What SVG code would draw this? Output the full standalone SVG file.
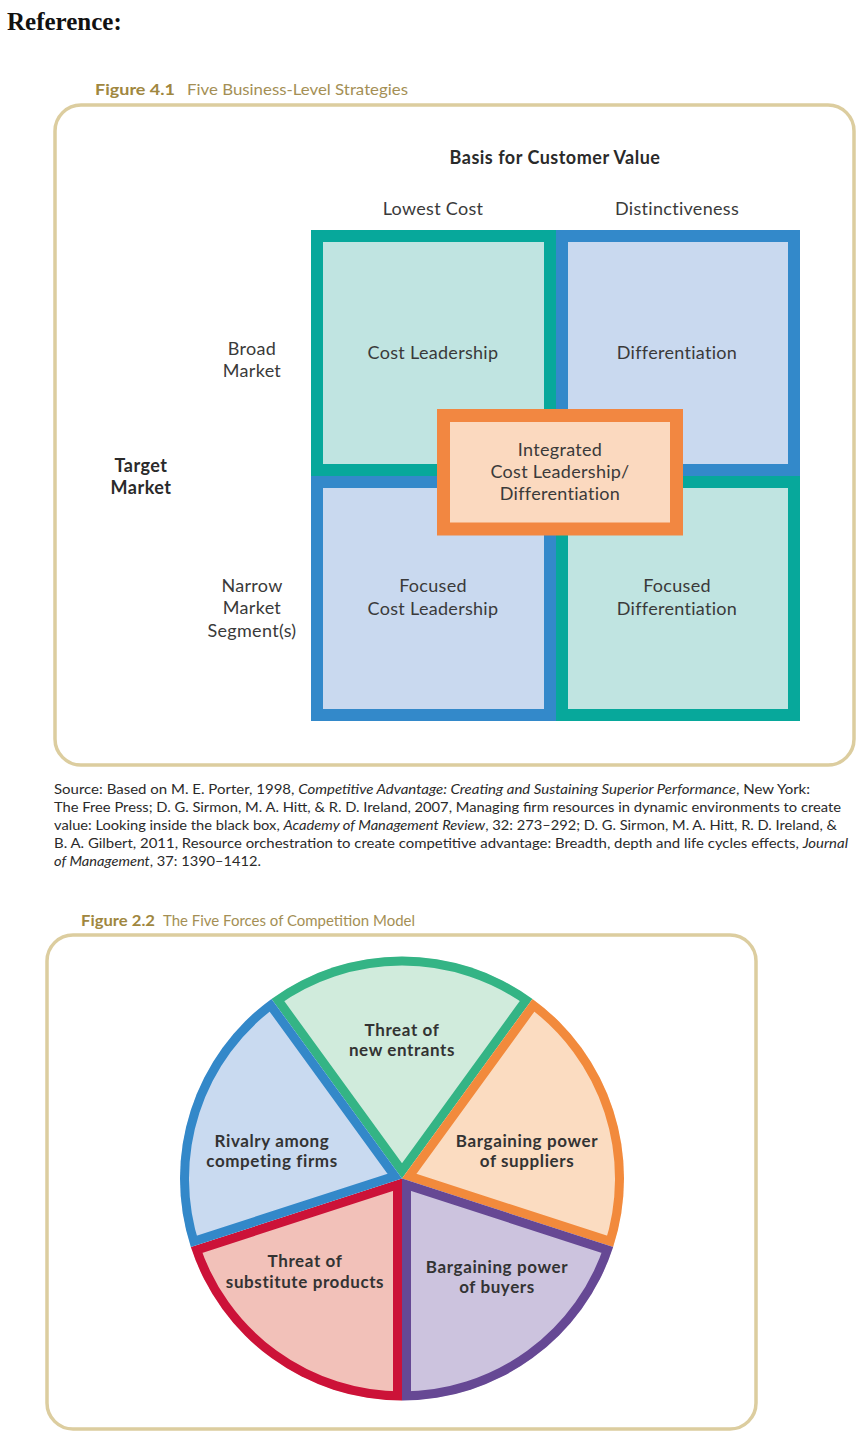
<svg xmlns="http://www.w3.org/2000/svg" xmlns:xlink="http://www.w3.org/1999/xlink" width="866" height="1446" viewBox="0 0 866 1446">
<style>
.ref{font-family:"Liberation Serif",serif;font-weight:bold;font-size:25px;fill:#111}
.ttl{font-family:Lato,"Liberation Sans",sans-serif;font-size:16px;fill:#a48f55}
.ttlb{font-weight:bold;fill:#a0873f}
.frame{fill:#fff;stroke:#dccd9f;stroke-width:3.5}
.lab{font-family:Lato,"Liberation Sans",sans-serif;font-size:18px;letter-spacing:0.3px;fill:#3a3a3a;text-anchor:middle}
.labb{font-family:Lato,"Liberation Sans",sans-serif;font-size:18px;letter-spacing:0.5px;font-weight:bold;fill:#2a2a2a;text-anchor:middle}
.src{font-family:Lato,"Liberation Sans",sans-serif;font-size:13px;fill:#2a2a2a}
.it{font-style:italic}
.pie{font-family:Lato,"Liberation Sans",sans-serif;font-size:17px;letter-spacing:0.6px;font-weight:bold;fill:#333;text-anchor:middle}
.teal{fill:#c0e4e1;stroke:#07a89b;stroke-width:12}
.blue{fill:#c9d9ef;stroke:#3389ca;stroke-width:12}
.orng{fill:#fbd9bf;stroke:#f28741;stroke-width:13}
</style>
<defs>
<path id="wP" d="M402 1178.5 L613.13 1247.1 A222 222 0 0 1 402 1400.5 Z"/>
<path id="wR" d="M402 1178.5 L402 1400.5 A222 222 0 0 1 190.87 1247.1 Z"/>
<path id="wB" d="M402 1178.5 L190.87 1247.1 A222 222 0 0 1 271.51 998.9 Z"/>
<path id="wG" d="M402 1178.5 L271.51 998.9 A222 222 0 0 1 532.49 998.9 Z"/>
<path id="wO" d="M402 1178.5 L532.49 998.9 A222 222 0 0 1 613.13 1247.1 Z"/>
<clipPath id="cP"><use xlink:href="#wP"/></clipPath>
<clipPath id="cR"><use xlink:href="#wR"/></clipPath>
<clipPath id="cB"><use xlink:href="#wB"/></clipPath>
<clipPath id="cG"><use xlink:href="#wG"/></clipPath>
<clipPath id="cO"><use xlink:href="#wO"/></clipPath>
</defs>
<rect width="866" height="1446" fill="#fff"/>
<text class="ref" x="7" y="30">Reference:</text>

<!-- Figure 4.1 -->
<text class="ttl" x="95" y="95"><tspan class="ttlb" textLength="80" lengthAdjust="spacingAndGlyphs">Figure 4.1</tspan><tspan x="187" textLength="221" lengthAdjust="spacingAndGlyphs">Five Business-Level Strategies</tspan></text>
<rect class="frame" x="55" y="105" width="799" height="660" rx="26"/>
<text class="labb" x="555" y="164">Basis for Customer Value</text>
<text class="lab" x="433" y="215">Lowest Cost</text>
<text class="lab" x="677" y="215">Distinctiveness</text>
<text class="lab" x="252" y="355">Broad</text>
<text class="lab" x="252" y="377">Market</text>
<text class="labb" x="141" y="472">Target</text>
<text class="labb" x="141" y="494">Market</text>
<text class="lab" x="252" y="592">Narrow</text>
<text class="lab" x="252" y="614">Market</text>
<text class="lab" x="252" y="637">Segment(s)</text>

<g id="cost-leadership"><rect class="teal" x="317" y="236" width="233" height="234"/><text class="lab" x="433" y="359">Cost Leadership</text></g>
<g id="differentiation"><rect class="blue" x="562" y="236" width="232" height="234"/><text class="lab" x="677" y="359">Differentiation</text></g>
<g id="focused-cost-leadership"><rect class="blue" x="317" y="482" width="233" height="233"/><text class="lab" x="433" y="592">Focused</text><text class="lab" x="433" y="615">Cost Leadership</text></g>
<g id="focused-differentiation"><rect class="teal" x="562" y="482" width="232" height="233"/><text class="lab" x="677" y="592">Focused</text><text class="lab" x="677" y="615">Differentiation</text></g>
<g id="integrated"><rect class="orng" x="443.5" y="415.5" width="233" height="113.5"/><text class="lab" x="560" y="456">Integrated</text><text class="lab" x="560" y="478">Cost Leadership/</text><text class="lab" x="560" y="500">Differentiation</text></g>
<g id="connectors"/>

<text class="src" x="54" y="794" textLength="756" lengthAdjust="spacingAndGlyphs">Source: Based on M. E. Porter, 1998, <tspan class="it">Competitive Advantage: Creating and Sustaining Superior Performance</tspan>, New York:</text>
<text class="src" x="54" y="812" textLength="787" lengthAdjust="spacingAndGlyphs">The Free Press; D. G. Sirmon, M. A. Hitt, &amp; R. D. Ireland, 2007, Managing firm resources in dynamic environments to create</text>
<text class="src" x="54" y="830" textLength="783" lengthAdjust="spacingAndGlyphs">value: Looking inside the black box, <tspan class="it">Academy of Management Review</tspan>, 32: 273–292; D. G. Sirmon, M. A. Hitt, R. D. Ireland, &amp;</text>
<text class="src" x="54" y="848" textLength="794" lengthAdjust="spacingAndGlyphs">B. A. Gilbert, 2011, Resource orchestration to create competitive advantage: Breadth, depth and life cycles effects, <tspan class="it">Journal</tspan></text>
<text class="src" x="54" y="866" textLength="207" lengthAdjust="spacingAndGlyphs"><tspan class="it">of Management</tspan>, 37: 1390–1412.</text>

<!-- Figure 2.2 -->
<text class="ttl" x="81" y="926"><tspan class="ttlb" textLength="74" lengthAdjust="spacingAndGlyphs">Figure 2.2</tspan><tspan x="163" textLength="252" lengthAdjust="spacingAndGlyphs">The Five Forces of Competition Model</tspan></text>
<rect class="frame" x="47" y="935" width="709" height="494" rx="26"/>

<g id="new-entrants"><use xlink:href="#wG" fill="#d0ebdc" stroke="#34b485" stroke-width="18" clip-path="url(#cG)"/><text class="pie" x="402" y="1036">Threat of</text><text class="pie" x="402" y="1056">new entrants</text></g>
<g id="suppliers"><use xlink:href="#wO" fill="#fbdcc1" stroke="#f28a3c" stroke-width="18" clip-path="url(#cO)"/><text class="pie" x="527" y="1147">Bargaining power</text><text class="pie" x="527" y="1167">of suppliers</text></g>
<g id="buyers"><use xlink:href="#wP" fill="#ccc3de" stroke="#664894" stroke-width="18" clip-path="url(#cP)"/><text class="pie" x="497" y="1273">Bargaining power</text><text class="pie" x="497" y="1293">of buyers</text></g>
<g id="substitutes"><use xlink:href="#wR" fill="#f2c1b9" stroke="#cc1238" stroke-width="18" clip-path="url(#cR)"/><text class="pie" x="305" y="1267">Threat of</text><text class="pie" x="305" y="1288">substitute products</text></g>
<g id="rivalry"><use xlink:href="#wB" fill="#c9daf0" stroke="#3388c9" stroke-width="18" clip-path="url(#cB)"/><text class="pie" x="272" y="1147">Rivalry among</text><text class="pie" x="272" y="1167">competing firms</text></g>
</svg>
